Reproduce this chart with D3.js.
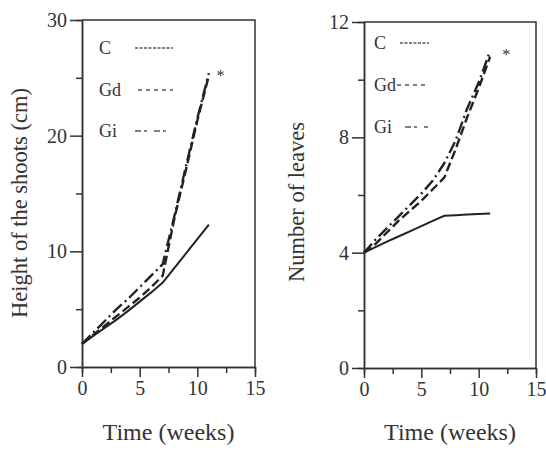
<!DOCTYPE html>
<html>
<head>
<meta charset="utf-8">
<script src="https://cdn.jsdelivr.net/npm/d3@7"></script>
<style>
  body { margin: 0; background: #fff; }
  text { font-family: "Liberation Serif", "DejaVu Serif", serif; fill: #333; }
  .axis path, .axis line { stroke: #333; stroke-width: 1.5; }
</style>
</head>
<body>
<svg id="chart" width="546" height="450"></svg>
<script>
// weeks sampled
var weeks = [0, 1, 2, 3, 4, 5, 6, 7, 8, 9, 10, 11];

// height of the shoots (cm)
var heightC  = [2, 2.7, 3.4, 4.1, 4.85, 5.65, 6.45, 7.3, 8.55, 9.8, 11.05, 12.3];
var heightGd = [2, 2.8, 3.6, 4.4, 5.2, 6.0, 6.9, 7.9, 12.8, 17.0, 21.3, 25.2];
var heightGi = [2, 3.0, 4.0, 5.0, 5.9, 6.9, 7.9, 8.9, 13.0, 17.3, 21.5, 25.4];

// number of leaves
var leavesC  = [4, 4.19, 4.38, 4.56, 4.74, 4.92, 5.1, 5.28, 5.3, 5.32, 5.34, 5.36];
var leavesGd = [4, 4.3, 4.7, 5.1, 5.45, 5.8, 6.2, 6.6, 7.6, 8.7, 9.7, 10.8];
var leavesGi = [4, 4.45, 4.85, 5.25, 5.65, 6.05, 6.5, 7.1, 7.9, 9.0, 9.9, 11.0];

var xTicks = [0, 5, 10, 15];
var xMinor = [2.5, 7.5, 12.5];
var heightTicks = [0, 10, 20, 30];
var heightMinor = [5, 15, 25];
var leavesTicks = [0, 4, 8, 12];
var leavesMinor = [2, 6, 10];

var legendNames = ["C", "Gd", "Gi"];
var legendDash = ["3,1.5", "4,4", "6,3,3,7"];
var lineDash = [null, "9,4", "12,4,2,4"];

var svg = d3.select("#chart");

function panel(opt) {
  var x = d3.scaleLinear().domain([0, 15]).range([opt.left, opt.right]);
  var y = d3.scaleLinear().domain([0, opt.ymax]).range([opt.bottom, opt.top]);
  var g = svg.append("g");

  // box top and right
  g.append("path")
    .attr("d", "M" + x(0) + "," + y(opt.ymax) + "H" + x(15) + "V" + y(0))
    .attr("fill", "none").attr("stroke", "#333").attr("stroke-width", 1.5);

  // minor ticks first
  g.append("g").attr("class", "axis")
    .attr("transform", "translate(0," + y(0) + ")")
    .call(d3.axisBottom(x).tickValues(xMinor).tickSize(6).tickFormat(""));
  g.append("g").attr("class", "axis")
    .attr("transform", "translate(" + x(0) + ",0)")
    .call(d3.axisLeft(y).tickValues(opt.minor).tickSize(6).tickFormat(""));

  var xa = g.append("g").attr("class", "axis")
    .attr("transform", "translate(0," + y(0) + ")")
    .call(d3.axisBottom(x).tickValues(xTicks).tickSize(10).tickSizeOuter(0).tickPadding(4));
  xa.selectAll("text").attr("font-size", 20).attr("fill", "#333");

  var ya = g.append("g").attr("class", "axis")
    .attr("transform", "translate(" + x(0) + ",0)")
    .call(d3.axisLeft(y).tickValues(opt.ticks).tickSize(12).tickSizeOuter(0).tickPadding(3));
  ya.selectAll("text").attr("font-size", 20).attr("fill", "#333");
  g.selectAll(".domain").attr("stroke", "#333");

  // axis titles
  g.append("text")
    .attr("x", (x(0) + x(15)) / 2).attr("y", 440)
    .attr("text-anchor", "middle").attr("font-size", 24)
    .text("Time (weeks)");
  g.append("text")
    .attr("transform", "translate(" + opt.titleX + "," + opt.titleY + ") rotate(-90)")
    .attr("text-anchor", "middle").attr("font-size", opt.titleSize)
    .text(opt.title);

  // lines
  var line = d3.line()
    .x(function(d, i) { return x(weeks[i]); })
    .y(function(d) { return y(d); });
  opt.series.forEach(function(s, k) {
    g.append("path")
      .attr("d", line(s))
      .attr("fill", "none")
      .attr("stroke", "#222")
      .attr("stroke-width", k == 0 ? 2 : 2.4)
      .attr("stroke-dasharray", lineDash[k]);
  });

  // asterisk
  g.append("text")
    .attr("x", x(opt.star[0])).attr("y", y(opt.star[1]) + 8)
    .attr("text-anchor", "middle").attr("font-size", 16).attr("fill", "#222")
    .text("*");

  // legend
  legendNames.forEach(function(n, k) {
    var ly = opt.legY[k];
    g.append("text")
      .attr("x", opt.legX).attr("y", ly + 6)
      .attr("font-size", 18).text(n);
    g.append("line")
      .attr("x1", opt.legLine[k][0]).attr("x2", opt.legLine[k][1])
      .attr("y1", ly).attr("y2", ly)
      .attr("stroke", "#555").attr("stroke-width", 1.3)
      .attr("stroke-dasharray", legendDash[k]);
  });
}

panel({
  left: 82, right: 255, top: 20, bottom: 367, ymax: 30,
  ticks: heightTicks, minor: heightMinor,
  title: "Height of the shoots (cm)", titleX: 27, titleY: 203, titleSize: 22.5,
  series: [heightC, heightGd, heightGi],
  star: [12, 25.4],
  legX: 99, legY: [48, 90, 131],
  legLine: [[135, 173], [138, 173], [135, 166]]
});

panel({
  left: 364, right: 536, top: 22, bottom: 368, ymax: 12,
  ticks: leavesTicks, minor: leavesMinor,
  title: "Number of leaves", titleX: 304, titleY: 202, titleSize: 22.5,
  series: [leavesC, leavesGd, leavesGi],
  star: [12.4, 10.97],
  legX: 374, legY: [43, 85, 127],
  legLine: [[400, 429], [397, 428], [405, 428]]
});
</script>
</body>
</html>
